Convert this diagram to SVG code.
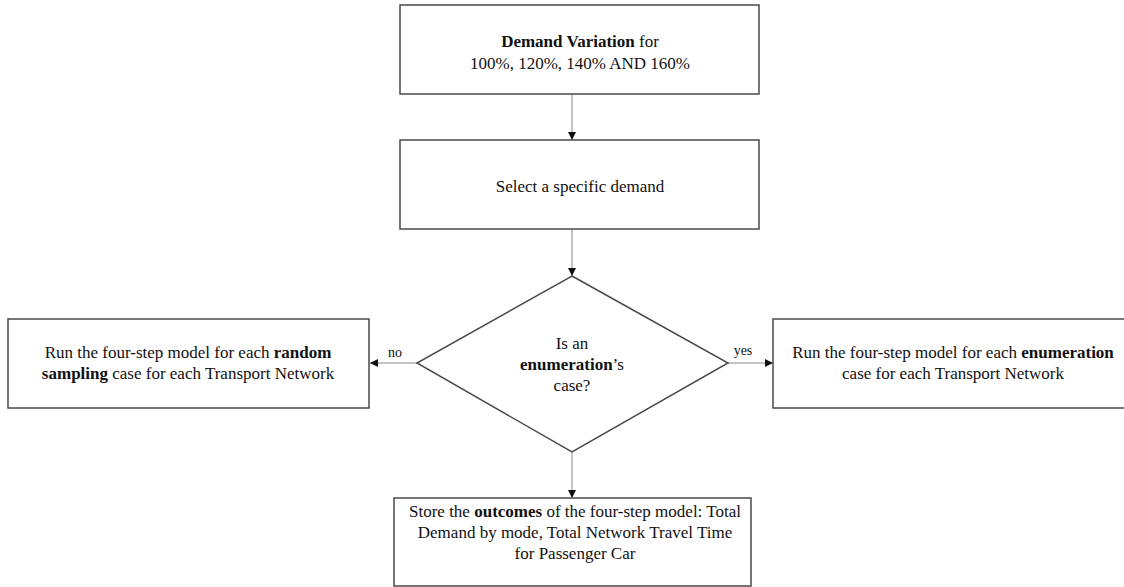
<svg xmlns="http://www.w3.org/2000/svg" width="1124" height="587" viewBox="0 0 1124 587">
<defs>
<style>
.box{fill:#fff;stroke:#4a4a4a;stroke-width:1.5}
.t{font-family:"Liberation Serif","Times New Roman",serif;font-size:17px;fill:#111;text-anchor:middle}
.b{font-weight:bold}
.lbl{font-family:"Liberation Serif","Times New Roman",serif;font-size:14px;fill:#111;text-anchor:middle}
.c{stroke:#888;stroke-width:1;fill:none}
</style>
<marker id="ah" viewBox="0 0 8 8" refX="8" refY="4" markerWidth="8" markerHeight="8" markerUnits="userSpaceOnUse" orient="auto">
<path d="M0,0 L8,4 L0,8 z" fill="#111"/>
</marker>
</defs>
<rect width="1124" height="587" fill="#fff"/>
<g id="connectors">
<line class="c" x1="572" y1="94" x2="572" y2="140" marker-end="url(#ah)"/>
<line class="c" x1="572" y1="229" x2="572" y2="276" marker-end="url(#ah)"/>
<line class="c" x1="417" y1="363" x2="370" y2="363" marker-end="url(#ah)"/>
<line class="c" x1="728" y1="363" x2="773" y2="363" marker-end="url(#ah)"/>
<line class="c" x1="572" y1="452" x2="572" y2="498" marker-end="url(#ah)"/>
<text class="lbl" x="395" y="357">no</text>
<text class="lbl" x="743" y="355">yes</text>
</g>
<g id="demand-variation">
<rect class="box" x="400" y="5" width="359" height="89"/>
<text class="t" x="580" y="47"><tspan class="b">Demand Variation</tspan> for</text>
<text class="t" x="580" y="69">100%, 120%, 140% AND 160%</text>
</g>
<g id="select-demand">
<rect class="box" x="400" y="140" width="359" height="89"/>
<text class="t" x="580" y="192">Select a specific demand</text>
</g>
<g id="decision">
<polygon class="box" points="572,276 728,363 572,452 417,363"/>
<text class="t" x="572" y="349">Is an</text>
<text class="t" x="572" y="370"><tspan class="b">enumeration</tspan>’s</text>
<text class="t" x="572" y="391">case?</text>
</g>
<g id="random-sampling">
<rect class="box" x="8" y="319" width="361" height="89"/>
<text class="t" x="188" y="358">Run the four-step model for each <tspan class="b">random</tspan></text>
<text class="t" x="188" y="379"><tspan class="b">sampling</tspan> case for each Transport Network</text>
</g>
<g id="enumeration">
<rect class="box" x="773" y="319" width="360" height="89"/>
<text class="t" x="953" y="358">Run the four-step model for each <tspan class="b">enumeration</tspan></text>
<text class="t" x="953" y="379">case for each Transport Network</text>
</g>
<g id="store-outcomes">
<rect class="box" x="394" y="498" width="357" height="88"/>
<text class="t" x="575" y="517">Store the <tspan class="b">outcomes</tspan> of the four-step model: Total</text>
<text class="t" x="575" y="538">Demand by mode, Total Network Travel Time</text>
<text class="t" x="575" y="559">for Passenger Car</text>
</g>
</svg>
